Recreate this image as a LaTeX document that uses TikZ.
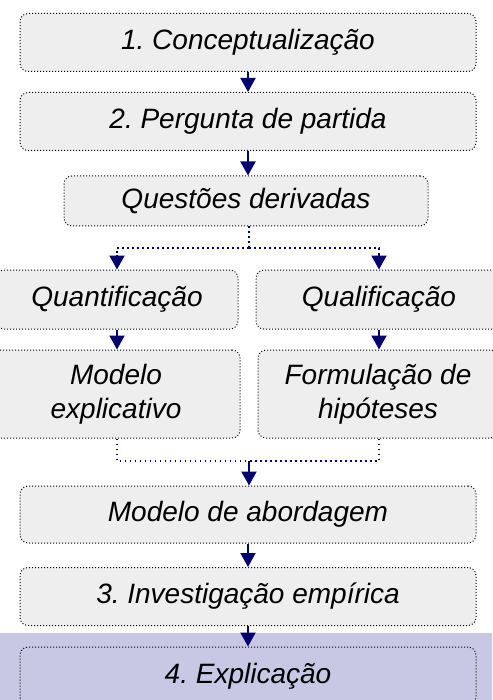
\documentclass[tikz,border=0pt]{standalone}
\usepackage{fontspec}
\setmainfont{Liberation Sans}
\usetikzlibrary{calc}
\usetikzlibrary{arrows.meta}
\frenchspacing

\definecolor{flownavy}{RGB}{0,0,110}
\definecolor{boxgray}{RGB}{238,238,238}
\definecolor{lastbg}{RGB}{200,200,228}

\begin{document}
\begin{tikzpicture}[x=1pt, y=-1pt,
    box/.style={draw=black, line width=1pt, dash pattern=on 1pt off 2pt,
      rounded corners=8pt, fill=boxgray, align=center,
      font=\itshape\fontsize{28}{34}\selectfont},
    wide/.style={box, minimum width=456pt, minimum height=58pt},
    flow/.style={draw=flownavy, line width=2pt, -{Triangle[width=15pt,length=14pt]}},
    dotlink/.style={draw=flownavy, line width=1.6pt, dash pattern=on 1.6pt off 3.4pt}]

    \useasboundingbox (0,0) rectangle (492,700);
    \fill[lastbg] (0,633) rectangle (492,700);

    \coordinate (split) at (249, 248);
    \coordinate (join) at (249, 461);

    \node[wide] (concept) at (248, 42.5) {1. Conceptualização};
    \node[wide] (pergunta) at (248, 121.5) {2. Pergunta de partida};
    \node[box, minimum width=364pt, minimum height=50pt] (questoes) at (246, 201) {Questões derivadas};

    \node[box, minimum width=242pt, minimum height=59pt] (quant) at (117, 299.5) {Quantificação};
    \node[box, minimum width=246pt, minimum height=59pt] (qual) at (379, 299.5) {Qualificação};
    \node[box, minimum width=248pt, minimum height=88pt] (modelo) at (116, 394) {Modelo\\explicativo};
    \node[box, minimum width=240pt, minimum height=88pt] (formul) at (378, 394) {Formulação de\\hipóteses};

    \node[wide, minimum height=57pt] (abord) at (248, 514.5) {Modelo de abordagem};
    \node[wide] (invest) at (248, 596.5) {3. Investigação empírica};
    \node[wide, fill=none] (explic) at (248, 676) {4. Explicação};

    \draw[flow] (concept) -- (pergunta);
    \draw[flow] (pergunta) -- (questoes.north -| pergunta.south);

    \draw[dotlink] (questoes.south -| split) -- (split);
    \draw[dotlink] (split) -| ($(quant.north)+(0,-14)$);
    \draw[dotlink] (split) -| ($(qual.north)+(0,-14)$);
    \draw[flow] ($(quant.north)+(0,-14.5)$) -- (quant.north);
    \draw[flow] ($(qual.north)+(0,-14.5)$) -- (qual.north);

    \draw[flow] (quant.south) -- (modelo.north -| quant.south);
    \draw[flow] (qual.south) -- (formul.north -| qual.south);

    \draw[dotlink] (modelo.south -| quant.south) |- (join);
    \draw[dotlink] (formul.south -| qual.south) |- (join);
    \draw[flow] (join) -- (abord.north -| join);

    \draw[flow] (abord) -- (invest);
    \draw[flow] (invest) -- (explic);
\end{tikzpicture}
\end{document}
